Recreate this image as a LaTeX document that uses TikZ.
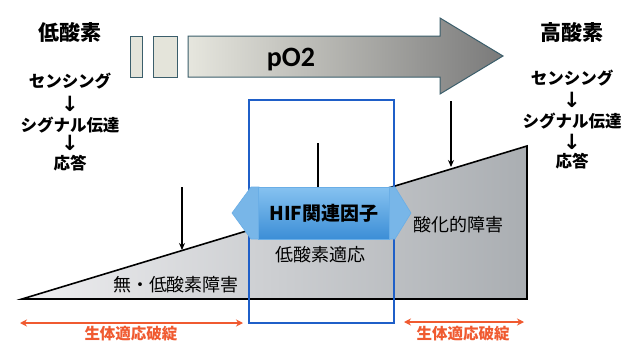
\documentclass[tikz,border=0pt]{standalone}
\usepackage{fontspec}
\newfontfamily\jp{Noto Sans CJK JP}
\newfontfamily\carl{Carlito}
\newfontfamily\dvs{DejaVu Sans}
\usetikzlibrary{arrows.meta}
\definecolor{edge}{HTML}{3B5E6B}
\definecolor{arrL}{HTML}{E6E6DE}
\definecolor{arrR}{HTML}{7A7A7A}
\definecolor{smallc}{HTML}{E4E4DA}
\definecolor{triL}{HTML}{EEEEF0}
\definecolor{triR}{HTML}{AAAEB2}
\definecolor{blueframe}{HTML}{1F5FC8}
\definecolor{hifT}{HTML}{86C2F0}
\definecolor{hifB}{HTML}{3C8ED6}
\definecolor{hifH}{HTML}{78B6E8}
\definecolor{hifE}{HTML}{6AAEE6}
\definecolor{redc}{HTML}{F05A30}
\tikzset{
  jlab/.style={font=\jp\fontsize{16.5}{18}\selectfont\bfseries, inner sep=0pt},
  arrlab/.style={font=\dvs\fontsize{21}{22}\selectfont\bfseries, inner sep=0pt},
  jbig/.style={font=\jp\fontsize{21}{23}\selectfont\bfseries, inner sep=0pt},
  jmid/.style={font=\jp\fontsize{18}{20}\selectfont, inner sep=0pt},
  redlab/.style={font=\jp\fontsize{15.5}{17}\selectfont\bfseries, text=redc, inner sep=0pt},
  downarrow/.style={line width=1.3pt, -{Stealth[length=7pt,width=6pt]}},
  redarrow/.style={redc, line width=2pt, {Stealth[length=7pt,width=7pt]}-{Stealth[length=7pt,width=7pt]}},
}
\begin{document}
\begin{tikzpicture}[x=1pt,y=-1pt]
\useasboundingbox (0,0) rectangle (625,343);
\fill[white] (0,0) rectangle (625,343);

% pO2 arrow and small bars
\path[draw=edge, line width=1pt, fill=smallc] (130,36) rectangle (142,77);
\path[draw=edge, line width=1pt, fill=smallc] (153,36) rectangle (177,77);
\path[draw=edge, line width=1pt, left color=arrL, right color=arrR]
  (188,36) -- (440,36) -- (440,18) -- (503,56) -- (440,94) -- (440,77) -- (188,77) -- cycle;
\node[font=\carl\fontsize{28}{30}\selectfont\bfseries, inner sep=0pt] (po2) at (291,60) {pO2};

% wedge
\path[draw=black, line width=1.6pt, left color=triL, right color=triR]
  (22,299) -- (527,146) -- (527,299) -- cycle;

% blue frame
\draw[blueframe, line width=1.6pt] (249,100) rectangle (394,323);

% HIF double arrow
\path[fill=hifH, draw=hifE, line width=0.6pt] (232,213) -- (251,187) -- (259,187) -- (259,239) -- (251,239) -- cycle;
\path[fill=hifH, draw=hifE, line width=0.6pt] (389,187) -- (395,187) -- (411,213) -- (395,239) -- (389,239) -- cycle;
\node[draw=hifE, line width=0.6pt, top color=hifT, bottom color=hifB,
      minimum width=131pt, minimum height=52pt, inner sep=0pt,
      font=\jp\fontsize{19}{21}\selectfont\bfseries] (hif) at (324,213) {HIF関連因子};

% vertical lines / arrows
\coordinate (d1s) at (182,187);
\coordinate (d1e) at (182,250);
\draw[downarrow] (d1s) -- (d1e);
\coordinate (d2s) at (451,101);
\coordinate (d2e) at (451,167);
\draw[downarrow] (d2s) -- (d2e);
\coordinate (d3s) at (318,143);
\draw[line width=1.3pt] (d3s) -- (d3s |- hif.north);

% left column
\node[jbig] (lowo) at (70,32) {低酸素};
\node[jlab] (ls1) at (70,81) {センシング};
\node[arrlab] (la1) at (70,104) {↓};
\node[jlab] (ls2) at (70,125) {シグナル伝達};
\node[arrlab] (la2) at (70,143) {↓};
\node[jlab] (ls3) at (70,163) {応答};

% right column
\node[jbig] (higho) at (572,32) {高酸素};
\node[jlab] (rs1) at (572,78) {センシング};
\node[arrlab] (ra1) at (572,100) {↓};
\node[jlab] (rs2) at (572,121) {シグナル伝達};
\node[arrlab] (ra2) at (572,142) {↓};
\node[jlab] (rs3) at (572,161) {応答};

% inner labels
\node[jmid] (hypo) at (176,285) {無・低酸素障害};
\node[jmid] (adapt) at (320,255) {低酸素適応};
\node[jmid] (oxi) at (458,225) {酸化的障害};

% red arrows
\coordinate (r1a) at (20,323);
\coordinate (r1b) at (243,323);
\draw[redarrow] (r1a) -- (r1b);
\node[redlab] (rl1) at (131,334) {生体適応破綻};
\coordinate (r2a) at (404,322);
\coordinate (r2b) at (524,322);
\draw[redarrow] (r2a) -- (r2b);
\node[redlab] (rl2) at (463,334) {生体適応破綻};
\end{tikzpicture}
\end{document}
